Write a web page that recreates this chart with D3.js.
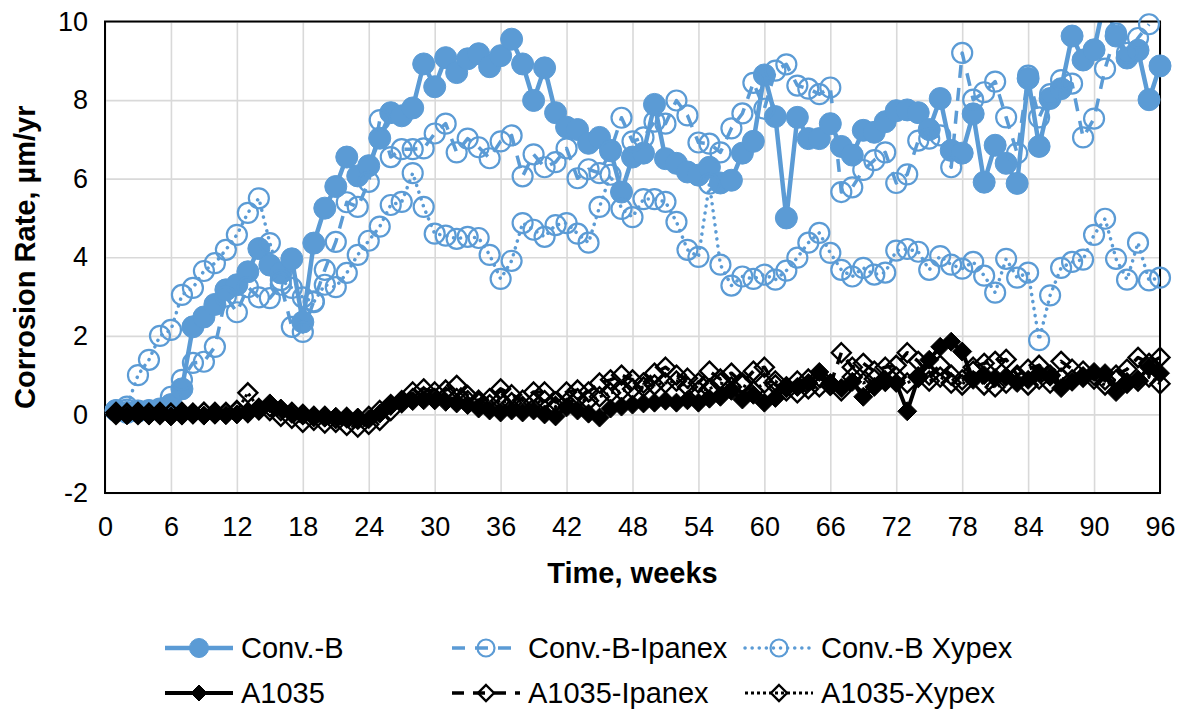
<!DOCTYPE html>
<html>
<head>
<meta charset="utf-8">
<script src="https://cdn.jsdelivr.net/npm/d3@7"></script>
<style>
  body { margin: 0; background: #fff; }
  svg { display: block; font-family: Arial, "Liberation Sans", sans-serif; }
</style>
</head>
<body>
<svg id="chart" width="1182" height="713"></svg>
<script>
// Weekly corrosion-rate readings (µm/yr), weeks 1..96
const weeks = d3.range(1, 97);

const convB = [0.1,0.05,0.08,0.1,0.12,0.25,0.65,2.23,2.48,2.8,
  3.17,3.3,3.63,4.22,3.8,3.6,3.96,2.35,4.36,5.25,
  5.8,6.55,6.07,6.33,7.03,7.68,7.6,7.8,8.92,8.34,
  9.08,8.7,9.05,9.18,8.85,9.13,9.55,8.92,7.99,8.82,
  7.68,7.31,7.25,6.9,7.05,6.72,5.66,6.55,6.65,7.89,
  6.51,6.39,6.17,6.09,6.29,5.89,5.96,6.65,6.95,8.64,
  7.58,5.0,7.56,7.02,7.02,7.4,6.82,6.6,7.23,7.18,
  7.45,7.73,7.75,7.68,7.25,8.04,6.72,6.65,7.65,5.91,
  6.85,6.39,5.88,8.55,6.82,8.04,8.29,9.63,9.02,9.28,
  10.6,9.63,9.07,9.27,8.01,8.87];

const convBIpanex = [0.1,0.12,0.1,0.1,0.15,0.45,0.88,1.31,1.34,1.72,
  3.0,2.6,3.24,2.98,2.96,3.3,2.23,2.1,2.88,3.68,
  4.39,5.4,5.28,5.92,7.49,6.55,6.75,6.75,6.77,7.15,
  7.4,6.67,7.02,6.8,6.52,6.95,7.1,6.06,6.62,6.29,
  6.42,6.77,6.01,6.24,6.14,6.7,7.55,6.95,7.05,7.45,
  7.4,7.99,7.61,6.92,6.89,6.67,7.28,7.66,8.44,7.78,
  8.75,8.91,8.37,8.29,8.15,8.32,5.66,5.78,6.22,6.47,
  6.67,5.89,6.11,6.97,7.02,7.1,6.29,9.2,8.01,8.2,
  8.47,7.56,6.65,8.62,7.56,8.15,8.51,8.42,7.05,7.53,
  8.8,9.7,9.2,9.58,9.93,null];

const convBXypex = [0.1,0.2,1.0,1.39,2.0,2.15,3.04,3.22,3.65,3.85,
  4.19,4.57,5.13,5.5,4.36,3.42,3.22,2.98,2.86,3.3,
  3.24,3.6,4.06,4.42,4.78,5.33,5.41,6.14,5.28,4.6,
  4.55,4.47,4.52,4.49,4.06,3.45,3.91,4.87,4.7,4.52,
  4.82,4.87,4.6,4.37,5.28,6.1,5.23,5.02,5.48,5.48,
  5.41,4.9,4.19,4.01,5.87,3.81,3.28,3.51,3.45,3.56,
  3.43,3.66,3.99,4.37,4.62,4.11,3.68,3.51,3.73,3.56,
  3.61,4.17,4.21,4.14,3.68,4.03,3.81,3.71,3.88,3.53,
  3.1,3.96,3.48,3.61,1.89,3.03,3.73,3.88,3.94,4.57,
  4.98,3.96,3.43,4.37,3.41,3.48];

const a1035 = [0.0,-0.02,0.0,-0.03,0.0,-0.05,-0.02,0.0,-0.03,0.0,
  -0.02,0.0,0.05,0.1,0.28,0.15,0.02,-0.02,-0.05,-0.08,
  -0.06,-0.1,-0.08,-0.12,0.02,0.22,0.3,0.34,0.36,0.36,
  0.32,0.28,0.24,0.15,0.1,0.05,0.1,0.05,0.1,0.0,
  -0.05,0.18,0.1,0.02,-0.08,0.15,0.2,0.25,0.28,0.3,
  0.35,0.3,0.36,0.3,0.4,0.45,0.6,0.38,0.5,0.3,
  0.42,0.67,0.7,0.8,1.08,0.8,0.67,0.83,0.45,0.7,
  0.83,0.8,0.08,0.93,1.39,1.72,1.85,1.6,0.88,1.0,
  0.93,0.96,0.8,0.88,1.05,0.96,0.67,0.83,0.96,1.08,
  1.05,0.57,0.8,0.88,1.2,1.05];

const a1035Ipanex = [0.05,0.02,0.05,0.03,0.05,0.02,0.05,0.03,0.05,0.05,
  0.03,0.1,0.05,0.12,0.2,0.1,0.05,0.0,-0.05,-0.05,
  -0.1,-0.08,-0.12,-0.05,0.1,0.25,0.35,0.57,0.65,0.57,
  0.62,0.74,0.48,0.36,0.4,0.65,0.5,0.36,0.57,0.57,
  0.32,0.57,0.62,0.57,0.8,0.88,1.0,0.88,0.8,1.05,
  1.2,1.0,0.92,0.8,1.1,0.9,1.05,0.8,1.1,1.2,
  0.75,0.7,0.85,0.9,0.95,0.75,1.57,1.2,1.3,1.1,
  1.2,1.25,1.57,1.35,1.0,1.25,1.0,0.88,1.2,1.3,
  1.35,1.4,1.0,1.15,1.25,1.0,1.35,1.15,1.1,1.0,
  0.88,1.0,1.15,1.45,1.3,1.45];

const a1035Xypex = [0.0,0.03,0.0,0.02,0.0,0.03,0.0,0.02,0.05,0.02,
  0.05,0.08,0.55,0.15,0.1,-0.05,-0.1,-0.2,-0.15,-0.22,
  -0.2,-0.28,-0.32,-0.25,-0.15,0.1,0.3,0.4,0.45,0.4,
  0.45,0.4,0.35,0.3,0.25,0.35,0.3,0.2,0.3,0.35,
  0.2,0.3,0.4,0.35,0.45,0.55,0.6,0.65,0.7,0.75,
  0.8,0.85,0.7,0.6,0.65,0.8,0.7,0.75,0.6,0.8,
  0.85,0.6,0.55,0.65,0.7,0.75,0.6,0.95,0.8,0.9,
  0.85,0.95,0.8,0.95,0.85,0.95,0.8,0.75,1.1,0.75,
  0.7,0.8,0.95,0.75,0.9,0.8,0.92,0.88,0.95,0.9,
  0.75,0.88,0.8,0.85,0.95,0.78];

const xTicks = d3.range(0, 97, 6);
const yTicks = [-2, 0, 2, 4, 6, 8, 10];
const xTitle = "Time, weeks";
const yTitle = "Corrosion Rate, µm/yr";

const BLUE = "#5b9bd5";
const series = [
  { name: "Conv.-B",        values: convB,       color: BLUE,   dash: null,    cap: "butt",  width: 4.5, marker: "circle",  filled: true  },
  { name: "Conv.-B-Ipanex", values: convBIpanex, color: BLUE,   dash: "13,10", cap: "butt",  width: 3.5, marker: "circle",  filled: false },
  { name: "Conv.-B Xypex",  values: convBXypex,  color: BLUE,   dash: "0.1,7", cap: "round", width: 3.5, marker: "circle",  filled: false },
  { name: "A1035",          values: a1035,       color: "#000", dash: null,    cap: "butt",  width: 4,   marker: "diamond", filled: true  },
  { name: "A1035-Ipanex",   values: a1035Ipanex, color: "#000", dash: "12,9",  cap: "butt",  width: 3.5, marker: "diamond", filled: false },
  { name: "A1035-Xypex",    values: a1035Xypex,  color: "#000", dash: "3,3",   cap: "butt",  width: 3,   marker: "diamond", filled: false }
];

const W = 1182, H = 713;
const plot = { left: 105, right: 1160, top: 21.5, bottom: 493 };
const FONT = "Arial, 'Liberation Sans', sans-serif";

const svg = d3.select("#chart");
const x = d3.scaleLinear().domain([0, 96]).range([plot.left, plot.right]);
const y = d3.scaleLinear().domain([-2, 10]).range([plot.bottom, plot.top]);

svg.append("rect").attr("width", W).attr("height", H).attr("fill", "#fff");

// Gridlines + tick labels
const yAxis = svg.append("g")
  .attr("transform", `translate(${plot.left},0)`)
  .call(d3.axisLeft(y).tickValues(yTicks).tickFormat(d => String(d))
    .tickSize(-(plot.right - plot.left)).tickPadding(17));
yAxis.select(".domain").remove();
yAxis.selectAll(".tick line").attr("stroke", "#d9d9d9").attr("stroke-width", 1.6);
yAxis.selectAll(".tick text").attr("font-size", 27).attr("fill", "#000").attr("font-family", FONT);

const xAxis = svg.append("g")
  .attr("transform", `translate(0,${plot.bottom})`)
  .call(d3.axisBottom(x).tickValues(xTicks).tickFormat(d => String(d))
    .tickSize(-(plot.bottom - plot.top)).tickPadding(24));
xAxis.select(".domain").remove();
xAxis.selectAll(".tick line").attr("stroke", "#d9d9d9").attr("stroke-width", 1.6);
xAxis.selectAll(".tick text").attr("font-size", 27).attr("fill", "#000").attr("font-family", FONT);

// Lines are clipped to the plot area; markers outside the y range are skipped
svg.append("clipPath").attr("id", "plotClip")
  .append("rect")
  .attr("x", plot.left).attr("y", plot.top)
  .attr("width", plot.right - plot.left).attr("height", plot.bottom - plot.top);

const lineG = svg.append("g").attr("clip-path", "url(#plotClip)");
const markG = svg.append("g");

const circleR = 10.5, diamondR = 9.5;
const diamondPath = r => `M0,${-r}L${r},0L0,${r}L${-r},0Z`;

function drawMarker(sel, s, r) {
  if (s.marker === "circle") {
    sel.append("circle").attr("r", s.filled ? r + 0.5 : r - 0.5)
      .attr("fill", s.filled ? s.color : "none")
      .attr("stroke", s.color).attr("stroke-width", s.filled ? 1 : 2.2);
  } else {
    sel.append("path").attr("d", diamondPath(r))
      .attr("fill", s.filled ? s.color : "none")
      .attr("stroke", s.color).attr("stroke-width", s.filled ? 1 : 2.4);
  }
}

const line = d3.line()
  .defined(d => d.v != null)
  .x(d => x(d.w)).y(d => y(d.v));

const [yMin, yMax] = y.domain();
series.forEach(s => {
  const pts = weeks.map((w, i) => ({ w, v: s.values[i] }));
  lineG.append("path").datum(pts)
    .attr("d", line)
    .attr("fill", "none")
    .attr("stroke", s.color)
    .attr("stroke-width", s.width)
    .attr("stroke-linecap", s.cap)
    .attr("stroke-linejoin", "round")
    .attr("stroke-dasharray", s.dash);
  const r = s.marker === "circle" ? circleR : diamondR;
  markG.append("g").selectAll("g.pt")
    .data(pts.filter(d => d.v != null && d.v >= yMin && d.v <= yMax))
    .enter()
    .append("g").attr("class", "pt")
    .attr("transform", d => `translate(${x(d.w)},${y(d.v)})`)
    .each(function () { drawMarker(d3.select(this), s, r); });
});

// Plot-area border
svg.insert("rect", "g")
  .attr("x", plot.left).attr("y", plot.top)
  .attr("width", plot.right - plot.left).attr("height", plot.bottom - plot.top)
  .attr("fill", "#fff");
svg.append("rect")
  .attr("x", plot.left).attr("y", plot.top)
  .attr("width", plot.right - plot.left).attr("height", plot.bottom - plot.top)
  .attr("fill", "none").attr("stroke", "#000").attr("stroke-width", 2)
  .lower().raise();
markG.raise();

// Axis titles
svg.append("text")
  .attr("x", (plot.left + plot.right) / 2).attr("y", 583)
  .attr("text-anchor", "middle").attr("font-size", 29).attr("font-weight", "bold")
  .text(xTitle);

svg.append("text")
  .attr("transform", `translate(35,${(plot.top + plot.bottom) / 2}) rotate(-90)`)
  .attr("text-anchor", "middle").attr("font-size", 29).attr("font-weight", "bold")
  .text(yTitle);

// Legend: two rows of three entries
const legendCols = [165, 452, 745];
const legendRows = [648, 693];
const sampleLen = 68;
series.forEach((s, i) => {
  const cx = legendCols[i % 3], cy = legendRows[Math.floor(i / 3)];
  const g = svg.append("g").attr("transform", `translate(${cx},${cy})`);
  g.append("line").attr("x1", 0).attr("x2", sampleLen).attr("y1", 0).attr("y2", 0)
    .attr("stroke", s.color).attr("stroke-width", s.width)
    .attr("stroke-linecap", s.cap).attr("stroke-dasharray", s.dash);
  const m = g.append("g").attr("transform", `translate(${sampleLen / 2},0)`);
  drawMarker(m, s, s.marker === "circle" ? 9 : 8);
  g.append("text").attr("x", sampleLen + 8).attr("y", 0).attr("dy", "0.35em")
    .attr("font-size", 29).text(s.name);
});
</script>
</body>
</html>
